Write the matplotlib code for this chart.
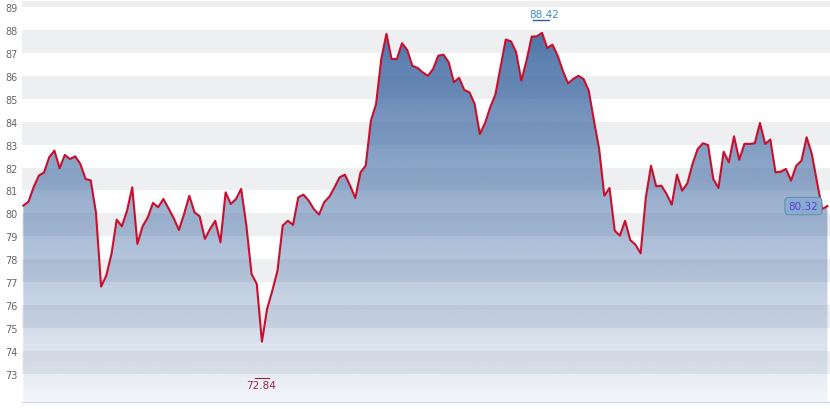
import numpy as np
import matplotlib.pyplot as plt
from matplotlib.colors import to_rgb

# closing values, left to right
prices = [
    80.34, 80.51, 81.15, 81.65, 81.79, 82.45, 82.74, 81.97, 82.55, 82.37,
    82.49, 82.16, 81.50, 81.44, 80.05, 76.81, 77.29, 78.23, 79.73, 79.44,
    80.12, 81.14, 78.67, 79.44, 79.83, 80.46, 80.27,
    80.63, 80.22, 79.79, 79.28, 79.98, 80.77, 80.05, 79.87, 78.89, 79.32,
    79.68, 78.74, 80.92, 80.41, 80.63, 81.07, 79.47, 77.36, 76.93, 74.41,
    75.84, 76.63, 77.50, 79.47, 79.68, 79.50, 80.70,
    80.82, 80.56, 80.19, 79.95, 80.49, 80.73, 81.14, 81.58, 81.69, 81.21,
    80.67, 81.79, 82.08, 84.04, 84.77, 86.73, 87.83, 86.73, 86.73, 87.42,
    87.13, 86.44, 86.34, 86.15, 86.00, 86.30, 86.88,
    86.92, 86.59, 85.72, 85.91, 85.38, 85.28, 84.77, 83.46, 83.93, 84.63,
    85.18, 86.37, 87.58, 87.50, 87.03, 85.79, 86.66, 87.71, 87.72, 87.87,
    87.21, 87.36, 86.88, 86.22, 85.67, 85.86, 86.00,
    85.86, 85.35, 84.04, 82.81, 80.77, 81.11, 79.25, 79.03, 79.68, 78.84,
    78.64, 78.26, 80.70, 82.08, 81.18, 81.21, 80.85, 80.38, 81.69, 80.99,
    81.31, 82.16, 82.81, 83.06, 82.98, 81.50, 81.11,
    82.69, 82.23, 83.36, 82.34, 83.03, 83.03, 83.06, 83.94, 83.03, 83.22,
    81.79, 81.82, 81.94, 81.43, 82.08, 82.30, 83.32, 82.59, 81.36, 80.19,
    80.32,
]
y_ticks = list(range(73, 90))
high_value = 88.42
low_value = 72.84
last_value = 80.32

y_min, y_max = 71.78, 89.26

fig = plt.figure(figsize=(8.3, 4.1), dpi=100)
ax = fig.add_axes([22 / 830, 7 / 410, 808 / 830, 401 / 410])
x = np.arange(len(prices))
x0, x1 = -0.25, len(prices) - 1 + 0.5
ax.set_xlim(x0, x1)
ax.set_ylim(y_min, y_max)

# alternating grey bands
for k in range(73, 91, 2):
    ax.axhspan(k, k + 1, color='#eeeff1', lw=0, zorder=0)

# gradient area under the line
area = ax.fill_between(x, prices, y_min, color='none', lw=0)
n = 256
rgba = np.zeros((n, 1, 4))
rgba[..., :3] = to_rgb('#3d68a2')
rgba[..., 3] = np.linspace(0.97, 0.06, n)[:, None]
img = ax.imshow(rgba, extent=[x0, x1, y_min, y_max], aspect='auto',
                origin='upper', zorder=1, interpolation='bilinear')
img.set_clip_path(area.get_paths()[0], transform=ax.transData)

ax.plot(x, prices, color='#c8102e', lw=1.5, zorder=3, solid_joinstyle='round')

# high / low markers
i_max = int(np.argmax(prices))
i_min = int(np.argmin(prices))
ax.plot([i_max - 1.7, i_max + 1.3], [high_value] * 2, color='#2f5f9a', lw=1, zorder=4)
ax.annotate(f'{high_value:.2f}', (i_max + 0.4, high_value), xytext=(0, 1),
            textcoords='offset pixels', ha='center', va='bottom',
            fontsize=7.5, color='#3f8cc2')
ax.plot([i_min - 1.4, i_min + 1.4], [low_value] * 2, color='#9b2335', lw=0.8, zorder=4)
ax.annotate(f'{low_value:.2f}', (i_min - 0.2, low_value), xytext=(0, -2),
            textcoords='offset pixels', ha='center', va='top',
            fontsize=7.5, color='#9b2e45')

# last value label
ax.annotate(f'{last_value:.2f}', (len(prices) - 1, last_value), xytext=(-24, 0),
            textcoords='offset pixels', ha='center', va='center',
            fontsize=7.5, color='#5a3fd6', zorder=5,
            bbox=dict(boxstyle='round,pad=0.35', fc='#88acd0', ec='#6a8fb2', lw=0.8))

ax.set_yticks(y_ticks)
ax.set_yticklabels([str(t) for t in y_ticks])
ax.tick_params(axis='y', length=0, pad=3, labelsize=7, labelcolor='#666666')
ax.set_xticks([])
for side in ['top', 'right', 'left']:
    ax.spines[side].set_visible(False)
ax.spines['bottom'].set_color('#ccd6eb')

fig.savefig('out.png', dpi=100)
